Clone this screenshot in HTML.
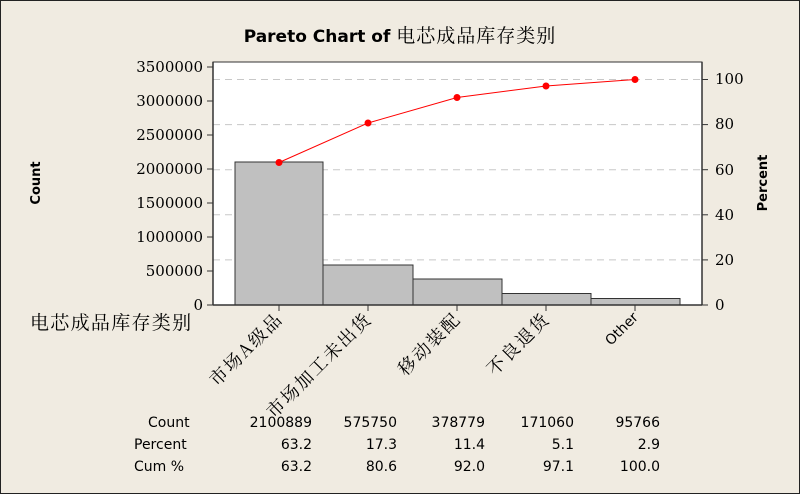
<!DOCTYPE html>
<html><head><meta charset="utf-8"><style>
html,body{margin:0;padding:0;background:#f0ebe1;}
svg{display:block}
</style></head><body>
<svg width="800" height="494" xmlns="http://www.w3.org/2000/svg" font-family="'DejaVu Sans','Noto Sans CJK SC',sans-serif">
<rect x="0.5" y="0.5" width="799" height="493" fill="#f0ebe1" stroke="#222" stroke-width="1"/>
<text x="400" y="42" text-anchor="middle" font-size="17" font-weight="bold" font-family="'DejaVu Sans','Noto Sans CJK SC',sans-serif">Pareto Chart of <tspan font-weight="normal" font-size="19" letter-spacing="1" font-family="'Noto Serif CJK SC','Noto Sans CJK SC',serif">电芯成品库存类别</tspan></text>
<rect x="213" y="62" width="489" height="243" fill="#fff" stroke="#333" stroke-width="1"/>
<g stroke="#c8c8c8" stroke-dasharray="7,5" stroke-width="1">
<line x1="213" x2="702" y1="79.5" y2="79.5"/><line x1="213" x2="702" y1="124.6" y2="124.6"/>
<line x1="213" x2="702" y1="169.7" y2="169.7"/><line x1="213" x2="702" y1="214.8" y2="214.8"/>
<line x1="213" x2="702" y1="259.9" y2="259.9"/>
</g>
<g fill="#c0c0c0" stroke="#333" stroke-width="1">
<rect x="235" y="162" width="88" height="143"/>
<rect x="323" y="265" width="90" height="40"/>
<rect x="413" y="279" width="89" height="26"/>
<rect x="502" y="293.5" width="89" height="11.5"/>
<rect x="591" y="298.5" width="89" height="6.5"/>
</g>
<line x1="213" y1="62" x2="213" y2="305" stroke="#333" stroke-width="1.5"/>
<line x1="702" y1="62" x2="702" y2="305" stroke="#333" stroke-width="1.5"/>
<line x1="213" y1="305" x2="702" y2="305" stroke="#333" stroke-width="1.5"/>
<polyline points="279,162.5 368,123 457,97.5 546,86 635,79.5" fill="none" stroke="#f00" stroke-width="1"/>
<g fill="#f00"><circle cx="279" cy="162.5" r="3.5"/><circle cx="368" cy="123" r="3.5"/><circle cx="457" cy="97.5" r="3.5"/><circle cx="546" cy="86" r="3.5"/><circle cx="635" cy="79.5" r="3.5"/></g>
<g stroke="#333" stroke-width="1">
<line x1="207" x2="213" y1="67" y2="67"/><line x1="207" x2="213" y1="101" y2="101"/><line x1="207" x2="213" y1="135" y2="135"/><line x1="207" x2="213" y1="169" y2="169"/><line x1="207" x2="213" y1="203" y2="203"/><line x1="207" x2="213" y1="237" y2="237"/><line x1="207" x2="213" y1="271" y2="271"/><line x1="207" x2="213" y1="305" y2="305"/>
<line x1="702" x2="708" y1="79.5" y2="79.5"/><line x1="702" x2="708" y1="124.6" y2="124.6"/><line x1="702" x2="708" y1="169.7" y2="169.7"/><line x1="702" x2="708" y1="214.8" y2="214.8"/><line x1="702" x2="708" y1="259.9" y2="259.9"/><line x1="702" x2="708" y1="305" y2="305"/>
<line x1="279" x2="279" y1="305" y2="311"/><line x1="368" x2="368" y1="305" y2="311"/><line x1="457" x2="457" y1="305" y2="311"/><line x1="546" x2="546" y1="305" y2="311"/><line x1="635" x2="635" y1="305" y2="311"/>
</g>
<g font-size="15" text-anchor="end" font-family="'DejaVu Serif','Liberation Serif',serif">
<text x="203" y="72">3500000</text><text x="203" y="106">3000000</text><text x="203" y="140">2500000</text><text x="203" y="174">2000000</text><text x="203" y="208">1500000</text><text x="203" y="242">1000000</text><text x="203" y="276">500000</text><text x="203" y="310">0</text>
</g>
<g font-size="15" font-family="'DejaVu Serif','Liberation Serif',serif">
<text x="715" y="84">100</text><text x="715" y="129">80</text><text x="715" y="175">60</text><text x="715" y="220">40</text><text x="715" y="265">20</text><text x="715" y="310">0</text>
</g>
<text transform="translate(40,183) rotate(-90)" text-anchor="middle" font-size="13" font-weight="bold">Count</text>
<text transform="translate(767,183) rotate(-90)" text-anchor="middle" font-size="13" font-weight="bold">Percent</text>
<text x="30" y="329" font-size="19" letter-spacing="1.3" font-family="'Noto Serif CJK SC','Noto Sans CJK SC',serif">电芯成品库存类别</text>
<g font-size="18" text-anchor="end" letter-spacing="2" font-family="'Noto Serif CJK SC','Noto Sans CJK SC',serif">
<text transform="translate(284,320) rotate(-45)">市场A级品</text>
<text transform="translate(373,320) rotate(-45)">市场加工未出货</text>
<text transform="translate(462,320) rotate(-45)">移动装配</text>
<text transform="translate(551,320) rotate(-45)">不良退货</text>
<text transform="translate(639,318) rotate(-45)" letter-spacing="0" font-family="'DejaVu Sans',sans-serif" font-size="14">Other</text>
</g>
<g font-size="14" font-family="'DejaVu Sans',sans-serif">
<text x="148" y="427">Count</text><text x="134" y="449">Percent</text><text x="134" y="471">Cum %</text>
</g>
<g font-size="14" text-anchor="end" font-family="'DejaVu Sans',sans-serif">
<text x="312" y="427">2100889</text><text x="397" y="427">575750</text><text x="485" y="427">378779</text><text x="574" y="427">171060</text><text x="660" y="427">95766</text>
<text x="312" y="449">63.2</text><text x="397" y="449">17.3</text><text x="485" y="449">11.4</text><text x="574" y="449">5.1</text><text x="660" y="449">2.9</text>
<text x="312" y="471">63.2</text><text x="397" y="471">80.6</text><text x="485" y="471">92.0</text><text x="574" y="471">97.1</text><text x="660" y="471">100.0</text>
</g>
</svg>
</body></html>
